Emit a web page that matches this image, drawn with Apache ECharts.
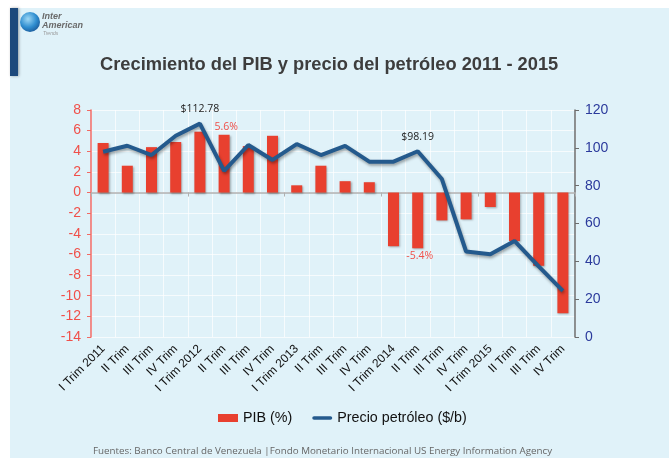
<!DOCTYPE html>
<html>
<head>
<meta charset="utf-8">
<script src="https://cdn.jsdelivr.net/npm/echarts@6/dist/echarts.min.js"></script>
<style>html,body{margin:0;padding:0;background:#fff}#c{width:669px;height:458px}</style>
</head>
<body>
<div id="c"></div>
<script>
var categories = ['I Trim 2011','II Trim','III Trim','IV Trim','I Trim 2012','II Trim','III Trim','IV Trim','I Trim 2013','II Trim','III Trim','IV Trim','I Trim 2014','II Trim','III Trim','IV Trim','I Trim 2015','II Trim','III Trim','IV Trim'];
var pib = [4.8, 2.6, 4.4, 4.9, 5.9, 5.6, 4.5, 5.5, 0.7, 2.6, 1.1, 1.0, -5.2, -5.4, -2.7, -2.6, -1.4, -4.7, -7.1, -11.7];
var petroleo = [97.9, 101.1, 96.2, 106.4, 112.78, 87.8, 101.5, 93.6, 102.0, 96.2, 101.0, 92.7, 92.7, 98.19, 83.5, 45.2, 43.8, 50.8, 37.3, 24.4];
var pibTicks = [-14, 8, 2];
var precioTicks = [0, 120, 20];
var pibLabels = {5: '5.6%', 13: '-5.4%'};
var precioLabels = {4: '$112.78', 13: '$98.19'};

var chart = echarts.init(document.getElementById('c'), null, {renderer: 'canvas'});

var barData = pib.map(function (v, i) {
  var d = {value: v};
  if (pibLabels[i]) {
    d.label = {show: true, position: v >= 0 ? 'top' : 'bottom', formatter: pibLabels[i],
      color: '#f0504a', fontSize: 10.5, fontFamily: 'Open Sans', distance: 2, offset: [2, 0]};
  }
  return d;
});
var lineData = petroleo.map(function (v, i) {
  var d = {value: v};
  if (precioLabels[i]) {
    d.label = {show: true, position: 'top', formatter: precioLabels[i],
      color: '#222', fontSize: 10.5, fontFamily: 'Open Sans', distance: 9};
  }
  return d;
});

var option = {
  backgroundColor: '#ffffff',
  animation: false,
  graphic: [
    {type: 'rect', shape: {x: 10, y: 8, width: 659, height: 450}, style: {fill: '#e0f2f9'}, z: -10},
    {type: 'rect', shape: {x: 10, y: 8, width: 8, height: 68}, style: {fill: '#1d4a7c', shadowColor: 'rgba(0,0,0,0.35)', shadowBlur: 3, shadowOffsetX: 1}, z: -9},
    {type: 'circle', shape: {cx: 30, cy: 22, r: 10},
      style: {fill: {type: 'radial', x: 0.4, y: 0.35, r: 0.7, colorStops: [{offset: 0, color: '#9fd8f5'}, {offset: 0.6, color: '#2f8ed0'}, {offset: 1, color: '#1a5a9a'}]}}},
    {type: 'text', left: 42, top: 12, style: {text: 'Inter\nAmerican', fill: '#6a6a6a', font: 'italic bold 9px "Liberation Sans"', lineHeight: 9}},
    {type: 'text', left: 43, top: 31, style: {text: 'Trends', fill: '#999', font: 'italic 5px "Liberation Sans"'}},
    {type: 'text', left: 93, top: 446, style: {text: 'Fuentes: Banco Central de Venezuela |Fondo Monetario Internacional US Energy Information Agency',
      fill: '#666', font: '9.8px "Open Sans"'}}
  ],
  title: {
    text: 'Crecimiento del PIB y precio del petróleo 2011 - 2015',
    left: 95, top: 51,
    textStyle: {fontSize: 18.3, fontWeight: 'bold', color: '#3d3d3d', fontFamily: 'Liberation Sans'}
  },
  legend: {
    bottom: 28, left: 213, itemGap: 20,
    textStyle: {fontSize: 14.3, color: '#111', fontFamily: 'Liberation Sans'},
    itemWidth: 20, itemHeight: 8,
    data: [{name: 'PIB (%)', icon: 'rect'},
           {name: 'Precio petróleo ($/b)', icon: 'path://M2,0 L20,0 A2,2 0 0 1 20,4 L2,4 A2,2 0 0 1 2,0 Z'}]
  },
  grid: {left: 91, right: 94, top: 110, bottom: 121},
  xAxis: [
    {type: 'category', data: categories, position: 'bottom',
      axisLine: {show: false, onZero: false}, axisTick: {show: false},
      splitLine: {show: true, lineStyle: {color: 'rgba(255,255,255,0.7)', width: 1}},
      axisLabel: {interval: 0, rotate: 45, color: '#111', fontSize: 12, fontFamily: 'Liberation Sans', margin: 10}},
    {type: 'category', data: categories, position: 'bottom',
      axisLine: {show: true, onZero: true, onZeroAxisIndex: 0, lineStyle: {color: '#b0b0b0', width: 1.5}},
      axisTick: {show: true, length: 4, lineStyle: {color: '#b0b0b0'}},
      axisLabel: {show: false}, splitLine: {show: false}}
  ],
  yAxis: [
    {type: 'value', min: pibTicks[0], max: pibTicks[1], interval: pibTicks[2], position: 'left',
      axisLine: {show: true, lineStyle: {color: '#f26a64', width: 1.5}},
      axisTick: {show: true, length: 4, lineStyle: {color: '#f26a64'}},
      splitLine: {show: true, lineStyle: {color: 'rgba(255,255,255,0.7)', width: 1}},
      axisLabel: {color: '#f0504a', fontSize: 14, fontFamily: 'Liberation Sans', margin: 10}},
    {type: 'value', min: precioTicks[0], max: precioTicks[1], interval: precioTicks[2], position: 'right',
      axisLine: {show: true, lineStyle: {color: '#6d6d6d', width: 1.5}},
      axisTick: {show: true, length: 4, lineStyle: {color: '#6d6d6d'}},
      splitLine: {show: false},
      axisLabel: {color: '#2b3a9c', fontSize: 14, fontFamily: 'Liberation Sans', margin: 10}}
  ],
  series: [
    {name: 'PIB (%)', type: 'bar', xAxisIndex: 0, yAxisIndex: 0, data: barData, barWidth: 11,
      itemStyle: {color: '#e8402f', shadowColor: 'rgba(0,0,0,0.3)', shadowBlur: 2, shadowOffsetX: 1, shadowOffsetY: 1}},
    {name: 'Precio petróleo ($/b)', type: 'line', xAxisIndex: 0, yAxisIndex: 1, data: lineData,
      symbol: 'circle', symbolSize: 0.1, showSymbol: true,
      lineStyle: {color: '#245a8d', width: 4, shadowColor: 'rgba(0,0,0,0.35)', shadowBlur: 3, shadowOffsetX: 1, shadowOffsetY: 2},
      itemStyle: {color: '#245a8d'}}
  ]
};
chart.setOption(option);
</script>
</body>
</html>
